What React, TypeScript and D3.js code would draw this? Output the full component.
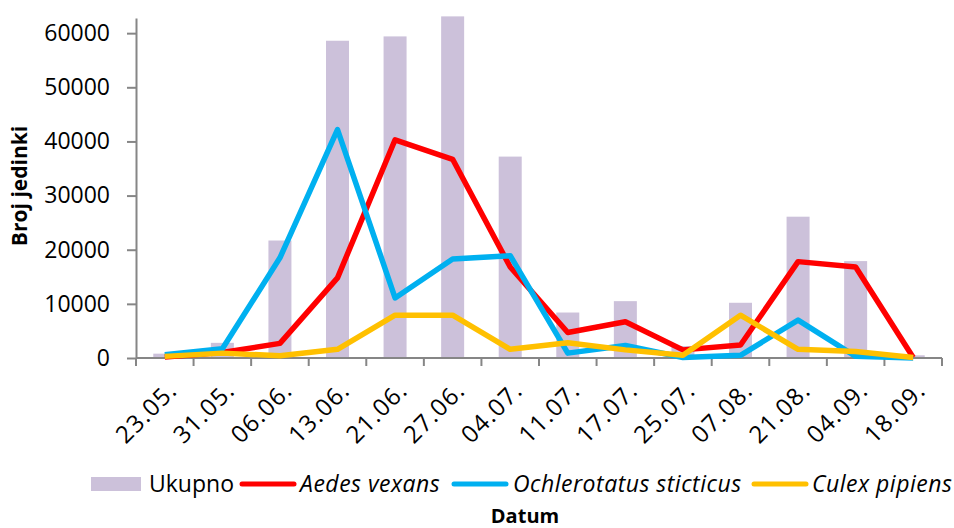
import React, { useEffect, useRef } from "react";
import * as d3 from "d3";

const dates = [
  "23.05.", "31.05.", "06.06.", "13.06.", "21.06.", "27.06.", "04.07.",
  "11.07.", "17.07.", "25.07.", "07.08.", "21.08.", "04.09.", "18.09.",
];
const ukupno = [800, 2800, 21700, 58600, 59400, 63100, 37200, 8400, 10500, 2200, 10200, 26100, 17900, 500];
const aedesVexans = [200, 1000, 2700, 14800, 40300, 36700, 16800, 4700, 6700, 1500, 2400, 17800, 16800, 100];
const ochlerotatus = [600, 1700, 18500, 42200, 11100, 18300, 18900, 900, 2300, 100, 500, 7000, 300, 0];
const culexPipiens = [300, 900, 400, 1600, 7900, 7900, 1600, 2800, 1500, 500, 7900, 1600, 1200, 100];
const yTicks = [0, 10000, 20000, 30000, 40000, 50000, 60000];

const FONT = "'Open Sans', 'Liberation Sans', sans-serif";
const AXIS = "#868686";
const BAR = "#CCC1DA";

const lineSeries = [
  { name: "Aedes vexans", values: aedesVexans, color: "#FF0000" },
  { name: "Ochlerotatus sticticus", values: ochlerotatus, color: "#00B0F0" },
  { name: "Culex pipiens", values: culexPipiens, color: "#FFC000" },
];

const App: React.FC = () => {
  const ref = useRef<SVGSVGElement | null>(null);

  useEffect(() => {
    const svg = d3.select(ref.current);
    svg.selectAll("*").remove();

    const left = 136;
    const right = 942;
    const bottom = 358;
    const top = 18;

    const x = d3.scaleBand().domain(dates).range([left, right]).padding(0);
    const y = d3.scaleLinear().domain([0, 62800]).range([bottom, top]);
    const cx = (d: string) => (x(d) || 0) + x.bandwidth() / 2;

    // Bars
    const barW = 23;
    svg
      .append("g")
      .selectAll("rect")
      .data(ukupno)
      .join("rect")
      .attr("x", (_, i) => cx(dates[i]) - barW / 2)
      .attr("y", (d) => y(d))
      .attr("width", barW)
      .attr("height", (d) => bottom - y(d))
      .attr("fill", BAR);

    // Y axis
    const ya = svg
      .append("g")
      .attr("transform", `translate(${left},0)`)
      .call(
        d3
          .axisLeft(y)
          .tickValues(yTicks)
          .tickFormat(d3.format("d"))
          .tickSize(9)
          .tickSizeOuter(0)
          .tickPadding(17)
      );
    ya.select(".domain").attr("stroke", AXIS).attr("stroke-width", 2);
    ya.selectAll(".tick line").attr("stroke", AXIS).attr("stroke-width", 2);
    ya.selectAll(".tick text")
      .attr("fill", "#000")
      .style("font-family", FONT)
      .style("font-size", "23px");

    // X axis
    const xa = svg.append("g").attr("transform", `translate(0,${bottom})`);
    xa.append("line")
      .attr("x1", left)
      .attr("x2", right)
      .attr("stroke", AXIS)
      .attr("stroke-width", 2);
    xa.selectAll("line.tk")
      .data(d3.range(dates.length + 1))
      .join("line")
      .attr("class", "tk")
      .attr("x1", (i) => left + i * x.step())
      .attr("x2", (i) => left + i * x.step())
      .attr("y1", 0)
      .attr("y2", 8)
      .attr("stroke", AXIS)
      .attr("stroke-width", 2);
    xa.selectAll("text")
      .data(dates)
      .join("text")
      .attr("transform", (d) => `translate(${cx(d) + 2},${22}) rotate(-45)`)
      .attr("text-anchor", "end")
      .attr("dy", "0.7em")
      .style("font-family", FONT)
      .style("font-size", "24px")
      .style("letter-spacing", "1.2px")
      .text((d) => d);

    // Lines
    const line = d3
      .line<number>()
      .x((_, i) => cx(dates[i]))
      .y((d) => y(d));
    lineSeries.forEach((s) => {
      svg
        .append("path")
        .datum(s.values)
        .attr("d", line)
        .attr("fill", "none")
        .attr("stroke", s.color)
        .attr("stroke-width", 5.5)
        .attr("stroke-linejoin", "round");
    });

    // Axis titles
    svg
      .append("text")
      .attr("transform", `translate(27,${186}) rotate(-90)`)
      .attr("text-anchor", "middle")
      .style("font-family", FONT)
      .style("font-size", "21px")
      .style("font-weight", "bold")
      .text("Broj jedinki");
    svg
      .append("text")
      .attr("x", 525)
      .attr("y", 523)
      .attr("text-anchor", "middle")
      .style("font-family", FONT)
      .style("font-size", "20px")
      .style("font-weight", "bold")
      .text("Datum");

    // Legend
    const lg = svg.append("g").attr("transform", "translate(0,484)");
    lg.append("rect").attr("x", 91).attr("y", -7).attr("width", 50).attr("height", 14).attr("fill", BAR);
    lg.append("text")
      .attr("x", 149)
      .attr("dy", "0.35em")
      .style("font-family", FONT)
      .style("font-size", "23px")
      .text("Ukupno");
    const items = [
      { s: lineSeries[0], x0: 242, tx: 300 },
      { s: lineSeries[1], x0: 454, tx: 513 },
      { s: lineSeries[2], x0: 754, tx: 812 },
    ];
    items.forEach(({ s, x0, tx }) => {
      lg.append("line")
        .attr("x1", x0)
        .attr("x2", x0 + 52)
        .attr("stroke", s.color)
        .attr("stroke-width", 5)
        .attr("stroke-linecap", "round");
      lg.append("text")
        .attr("x", tx)
        .attr("dy", "0.35em")
        .style("font-family", FONT)
        .style("font-size", "23px")
        .style("font-style", "italic")
        .style("letter-spacing", "0.5px")
        .text(s.name);
    });
  }, []);

  return (
    <svg
      ref={ref}
      width={954}
      height={528}
      style={{ position: "absolute", left: 0, top: 0, background: "#fff" }}
    />
  );
};

export default App;
